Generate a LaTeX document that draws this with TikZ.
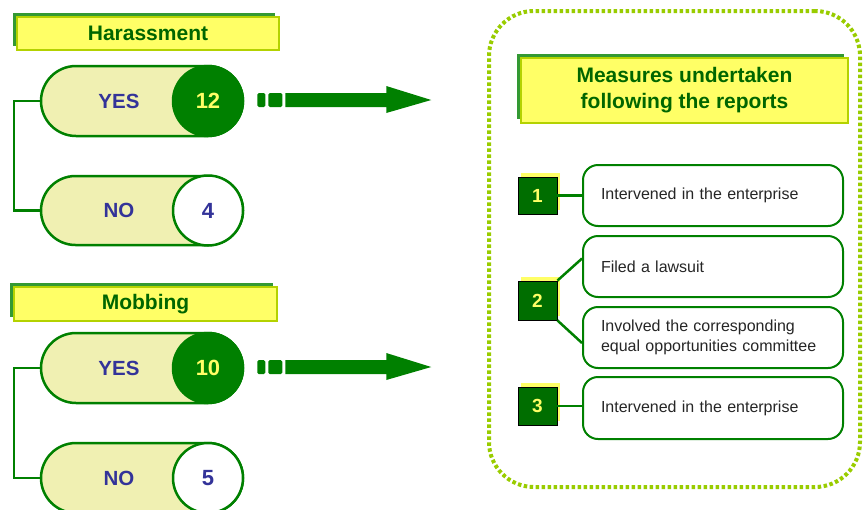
\documentclass[tikz,border=0pt]{standalone}
\usepackage{fontspec}
\setmainfont{Liberation Sans}
\usetikzlibrary{shapes.misc,shadows,calc}
\definecolor{dgreen}{HTML}{008000}
\definecolor{pillfill}{HTML}{F0F0B2}
\definecolor{navytext}{HTML}{333399}
\definecolor{titletext}{HTML}{006600}
\definecolor{titleyellow}{HTML}{FFFF66}
\definecolor{titleborder}{HTML}{B4D200}
\definecolor{shadowgreen}{HTML}{339933}
\definecolor{dotgreen}{HTML}{99CC00}
\definecolor{numgreen}{HTML}{006E00}
\begin{document}
\begin{tikzpicture}[x=1pt,y=-1pt,
  titlebox/.style={fill=titleyellow, draw=titleborder, line width=1.2pt,
    drop shadow={shadow xshift=-4pt, shadow yshift=4pt, fill=shadowgreen, opacity=1},
    text=titletext, font=\fontsize{21}{26}\selectfont\bfseries, align=center, inner sep=0pt},
  pill/.style={rounded rectangle, draw=dgreen, fill=pillfill, line width=2.5pt,
    minimum width=202pt, inner sep=0pt},
  yn/.style={text=navytext, font=\fontsize{20.5}{24}\selectfont\bfseries, inner sep=0pt},
  darkcirc/.style={circle, draw=dgreen, fill=dgreen, line width=2.5pt, minimum size=70pt,
    inner sep=0pt, text=titleyellow, font=\fontsize{22}{26}\selectfont\bfseries},
  whitecirc/.style={circle, draw=dgreen, fill=white, line width=2.5pt, minimum size=70pt,
    inner sep=0pt, text=navytext, font=\fontsize{22}{26}\selectfont\bfseries},
  bracket/.style={draw=dgreen, line width=2.5pt},
  dotbox/.style={draw=dotgreen, line width=4pt, dash pattern=on 3.5pt off 2.5pt,
    rounded corners=45pt, minimum width=371pt, minimum height=476pt, inner sep=0pt},
  numbox/.style={draw=black, line width=0.8pt, fill=numgreen, minimum width=39pt,
    minimum height=37pt, inner sep=0pt, text=titleyellow,
    font=\fontsize{19}{21}\selectfont\bfseries,
    drop shadow={shadow xshift=3pt, shadow yshift=4pt, fill=titleyellow, opacity=1}},
  textbox/.style={draw=dgreen, fill=white, line width=2pt, rounded corners=15pt,
    minimum width=260pt, text width=224pt, inner xsep=18pt, align=left,
    font=\fontsize{16}{19.5}\selectfont, text=black!85},
  conn/.style={draw=dgreen, line width=2.5pt},
  fatarrow/.pic={
    \fill[dgreen, rounded corners=1.5pt] (0,-7) rectangle (8,7);
    \fill[dgreen, rounded corners=1.5pt] (11,-7) rectangle (25,7);
    \fill[dgreen] (28,-7) -- (129,-7) -- (129,-14) -- (174,0) -- (129,13) -- (129,7) -- (28,7) -- cycle;
  }
]
\useasboundingbox (0,0) rectangle (864,509);

% right panel
\node[dotbox] (panel) at (674.5,249) {};

% Harassment
\node[titlebox, minimum width=262pt, minimum height=33pt] (har) at (148,33.5) {Harassment};
\node[pill, minimum height=70pt] (yes1) at (142,101) {};
\node[pill, minimum height=69pt] (no1) at (142,210.5) {};
\node[yn] (yes1t) at (119,101) {YES};
\node[yn] (no1t) at (119,210.5) {NO};
\node[darkcirc] (c1) at (208,101) {12};
\node[whitecirc] (c2) at (208,210.5) {4};
\draw[bracket] (yes1.west) -- ++(-26,0) |- (no1.west);
\pic at ([xshift=13pt,yshift=1pt]c1.east) {fatarrow};

% Mobbing
\node[titlebox, minimum width=263pt, minimum height=34pt] (mob) at (145.5,304) {Mobbing};
\node[pill, minimum height=70pt] (yes2) at (142,368) {};
\node[pill, minimum height=70pt] (no2) at (142,478) {};
\node[yn] (yes2t) at (119,368) {YES};
\node[yn] (no2t) at (119,478) {NO};
\node[darkcirc] (c3) at (208,368) {10};
\node[whitecirc] (c4) at (208,478) {5};
\draw[bracket] (yes2.west) -- ++(-26,0) |- (no2.west);
\pic at ([xshift=13pt,yshift=1pt]c3.east) {fatarrow};

% Measures
\node[titlebox, minimum width=327pt, minimum height=65pt] (meas) at (684.5,90.5)
  {Measures undertaken\\following the reports};

\node[textbox, minimum height=61pt] (A) at (713,195.5) {Intervened in the enterprise};
\node[textbox, minimum height=61pt] (B) at (713,266.5) {Filed a lawsuit};
\node[textbox, minimum height=61pt] (C) at (713,337.5) {Involved the corresponding\\equal opportunities committee};
\node[textbox, minimum height=62pt] (D) at (713,408) {Intervened in the enterprise};

\node[numbox] (n1) at (537.5,195.5) {1};
\node[numbox, minimum height=39pt] (n2) at (537.5,300.5) {2};
\node[numbox, minimum height=38pt] (n3) at (537.5,406) {3};

\draw[conn] (n1.east) -- (n1.east -| A.west);
\draw[conn] (n2.north east) -- ([yshift=8pt]B.west);
\draw[conn] (n2.south east) -- ([yshift=-5.5pt]C.west);
\draw[conn] (n3.east) -- (n3.east -| D.west);
\end{tikzpicture}
\end{document}
